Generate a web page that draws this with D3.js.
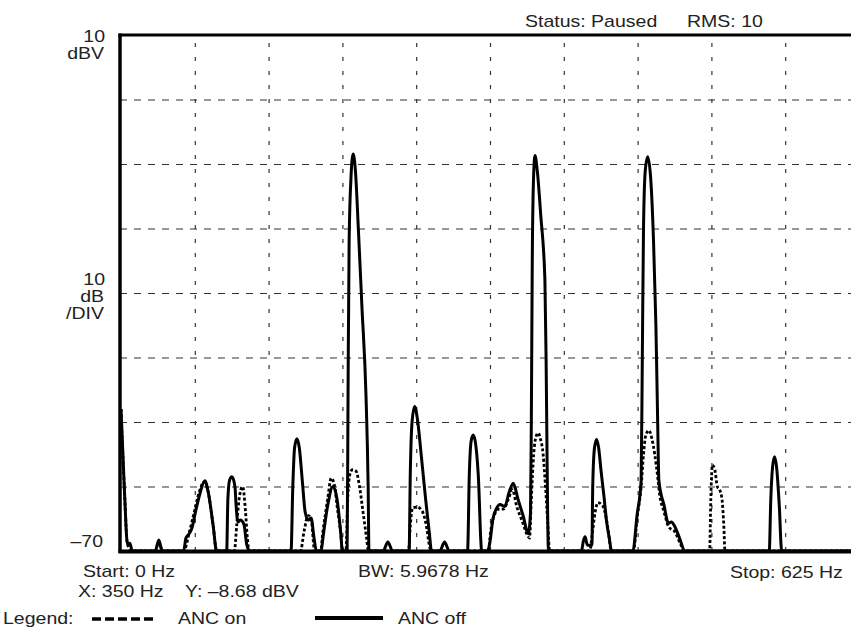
<!DOCTYPE html>
<html lang="en">
<head>
<meta charset="utf-8">
<title>ANC on / ANC off spectrum</title>
<script src="https://cdn.jsdelivr.net/npm/d3@7"></script>
<style>
  body { margin: 0; background: #fff; }
  svg { display: block; font-family: "Liberation Sans", Arial, sans-serif; }
  .grid line { stroke: #333; stroke-width: 1.2; }
  .grid .domain { display: none; }
</style>
</head>
<body>
<svg width="851" height="632"></svg>
<script>
  // spectrum traces, [frequency Hz, level dBV]
  const ancOff = [
    [0, -48], [3, -61], [5.5, -69], [7.5, -68.8], [9.5, -70],
    [29, -70], [32, -68.3], [35, -70],
    [53, -70], [55, -68], [57, -67.5], [60, -66.5], [63, -64], [67, -61], [71, -59.1], [74, -61], [78, -66], [81, -70],
    [89.5, -70], [90.5, -62], [92, -59], [94, -58.5], [96.5, -60], [97.5, -63], [99, -65.5], [101, -65.2], [104, -65.8], [106.5, -69], [109, -70],
    [144, -70], [145.5, -60], [147, -54], [149, -52.6], [151, -54], [153.5, -59], [156, -64], [158.5, -65.2], [161, -64.9], [163.5, -68], [165.5, -70],
    [169.5, -70], [171, -68], [175, -63], [179.5, -60], [183, -62], [186, -67], [187.5, -70],
    [191.5, -70], [192.3, -45], [193.2, -22], [194.8, -12], [196.6, -8.45], [198.5, -11], [201, -20], [204, -32], [207.5, -46], [209.3, -60], [210, -70],
    [222, -70], [226, -68.6], [230, -70],
    [244, -70], [245, -58], [246.5, -50], [248.7, -47.6], [251, -49.5], [254.4, -55.4], [258, -62], [261, -67], [263, -70],
    [270, -70], [274, -68.6], [278, -70],
    [293.5, -70], [295, -58], [296.5, -53], [298.2, -52], [300, -53], [302.5, -58], [305.5, -70],
    [310.5, -70], [312.3, -68.8], [315, -65], [318, -63.4], [321, -62.8], [325, -63.1], [328.5, -61], [332.2, -59.5], [336.4, -62.1], [340.5, -64.5], [344.9, -67.3], [346.8, -64],
    [347.5, -50], [348.3, -25], [349.4, -12], [350.6, -8.68], [352.5, -11], [355.5, -18], [359, -28], [360, -40], [360.8, -55], [362, -70],
    [390, -70], [391.5, -68.5], [393, -67.8], [395, -69.1], [398.8, -69.1], [399.5, -60], [401, -54], [402.8, -52.7], [404.5, -54], [406.5, -57.5], [409, -61.5], [411.3, -65.5], [413.5, -68], [415.5, -70],
    [433.5, -70], [437, -64.5], [440.5, -59], [441.5, -40], [442.5, -20], [444, -11], [446, -8.87], [448.5, -12], [451, -22], [453, -35], [454.5, -50], [455.5, -59], [460, -63], [463.6, -65.7], [466, -65.5], [469.3, -66.3], [473, -68], [477.7, -70],
    [549, -70], [550.3, -62], [551.8, -57], [553.5, -55.4], [555.2, -57], [557.5, -63], [559.5, -70],
    [625, -70]
  ];

  const ancOn = [
    [0, -48], [3, -61], [5.5, -69], [9.5, -70],
    [29, -70], [32, -68.5], [35, -70],
    [53, -70], [58, -67], [62, -64], [66, -61], [70.5, -59.3], [74, -61], [78, -66], [81, -70],
    [96, -70], [98, -66], [100, -62], [103, -60], [105.5, -64], [107, -68], [108.5, -70],
    [152, -70], [155, -67], [158.5, -64.5], [161, -65], [164, -70],
    [169, -70], [171, -67], [175, -62], [178, -58.7], [181, -60], [183, -63], [186.5, -68], [187.5, -70],
    [190.5, -70], [192, -62], [194, -58], [196, -57.4], [199, -57.6], [202, -60], [205, -64], [208, -68], [209.5, -70],
    [243.5, -70], [245, -66], [247, -63.3], [251, -63.2], [255, -63.8], [258.5, -66], [261, -69], [262.5, -70],
    [311, -70], [313, -67], [316, -64.5], [320, -63.5], [324, -63.5], [328, -62], [331.5, -60.5], [335, -63], [340, -65.5], [344, -67.5],
    [346, -68], [347.5, -62], [349.5, -55], [352, -52], [353.4, -51.7], [355, -52.5], [357.5, -55], [359.5, -60], [361.5, -66], [363, -70],
    [397, -70], [399, -67.5], [401.5, -64], [404, -62.5], [408, -63], [411, -65], [413.5, -68], [415, -70],
    [434, -70], [437, -65], [440.5, -60], [442.5, -55], [444.5, -52], [447, -51.3], [449.5, -52.5], [452, -55], [454.5, -58.5], [456, -61], [460, -64], [464, -66.3], [469, -67], [474, -69], [477, -70],
    [498.5, -70], [499.5, -62], [500.8, -56.7], [503, -57.5], [505, -60], [507, -60.5], [509, -62], [510.5, -66], [511.5, -70],
    [625, -70]
  ];

  // analyzer grid: 10 horizontal divisions over 0..625 Hz, 10 dB/div from -70 to 10 dBV
  const xGridHz = [62.5, 125, 187.5, 250, 312.5, 375, 437.5, 500, 562.5];
  const yGridDbv = [-60, -50, -40, -30, -20, -10, 0];

  const svg = d3.select("svg");
  const W = 851;

  const x = d3.scaleLinear().domain([0, 625]).range([121, 859]);
  const y = d3.scaleLinear().domain([-70, 10]).range([551, 35]);

  const plotLeft = 120;
  const plotTop = y(10);
  const plotBottom = y(-70);

  // grid
  svg.append("g")
    .attr("class", "grid")
    .attr("transform", `translate(0,${plotBottom})`)
    .call(d3.axisBottom(x).tickValues(xGridHz).tickSize(-(plotBottom - plotTop)).tickFormat(""))
    .selectAll("line").attr("stroke-dasharray", "4,10");

  svg.append("g")
    .attr("class", "grid")
    .attr("transform", `translate(${plotLeft},0)`)
    .call(d3.axisLeft(y).tickValues(yGridDbv).tickSize(-(W - plotLeft)).tickFormat(""))
    .selectAll("line").attr("stroke-dasharray", "7,7");

  svg.append("clipPath").attr("id", "plot")
    .append("rect")
    .attr("x", plotLeft).attr("y", plotTop)
    .attr("width", W - plotLeft).attr("height", plotBottom - plotTop + 2);

  const line = d3.line()
    .x(d => x(d[0]))
    .y(d => y(d[1]))
    .curve(d3.curveMonotoneX);

  const traces = svg.append("g").attr("clip-path", "url(#plot)");

  traces.append("path")
    .datum(ancOff)
    .attr("d", line)
    .attr("fill", "none")
    .attr("stroke", "#000")
    .attr("stroke-width", 3)
    .attr("stroke-linejoin", "round");

  traces.append("path")
    .datum(ancOn)
    .attr("d", line)
    .attr("fill", "none")
    .attr("stroke", "#000")
    .attr("stroke-width", 2.8)
    .attr("stroke-dasharray", "3,2.2");

  // frame (right edge runs off the picture)
  svg.append("line")
    .attr("x1", plotLeft).attr("x2", plotLeft)
    .attr("y1", plotTop - 1.5).attr("y2", plotBottom + 2)
    .attr("stroke", "#000").attr("stroke-width", 3.5);
  svg.append("line")
    .attr("x1", plotLeft - 1.5).attr("x2", W)
    .attr("y1", plotTop).attr("y2", plotTop)
    .attr("stroke", "#000").attr("stroke-width", 3);
  svg.append("line")
    .attr("x1", plotLeft - 1.5).attr("x2", W)
    .attr("y1", plotBottom + 0.5).attr("y2", plotBottom + 0.5)
    .attr("stroke", "#000").attr("stroke-width", 4);

  // texts are wider than Arial at this height, so stretch them
  function label(px, py, str, anchor) {
    svg.append("text")
      .attr("transform", `translate(${px},${py}) scale(1.22,1)`)
      .attr("text-anchor", anchor || "start")
      .attr("font-size", 16)
      .attr("fill", "#222")
      .text(str);
  }

  label(525, 27, "Status: Paused");
  label(687, 27, "RMS: 10");

  label(105, 42, "10", "end");
  label(104, 59, "dBV", "end");
  label(105, 285, "10", "end");
  label(104, 302, "dB", "end");
  label(104, 319, "/DIV", "end");
  label(103, 547, "–70", "end");

  label(83, 577, "Start: 0 Hz");
  label(358, 577, "BW: 5.9678 Hz");
  label(730, 578, "Stop: 625 Hz");
  label(78, 597, "X: 350 Hz");
  label(185, 597, "Y: –8.68 dBV");

  // legend
  label(3, 624, "Legend:");
  svg.append("line")
    .attr("x1", 92).attr("x2", 157).attr("y1", 619).attr("y2", 619)
    .attr("stroke", "#000").attr("stroke-width", 3.5)
    .attr("stroke-dasharray", "9,4");
  label(178, 624, "ANC on");
  svg.append("line")
    .attr("x1", 315).attr("x2", 383).attr("y1", 618).attr("y2", 618)
    .attr("stroke", "#000").attr("stroke-width", 4);
  label(398, 624, "ANC off");
</script>
</body>
</html>
